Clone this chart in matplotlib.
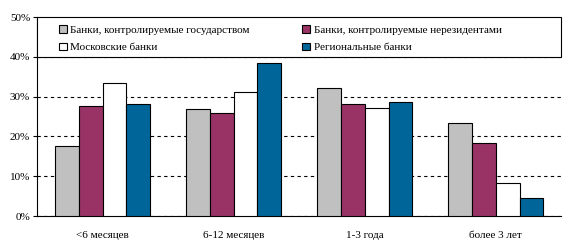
import numpy as np
import matplotlib.pyplot as plt
from matplotlib.patches import Rectangle
from matplotlib.ticker import FuncFormatter

plt.rcParams['font.family'] = ['Liberation Serif', 'DejaVu Serif']

categories = ['<6 месяцев', '6-12 месяцев', '1-3 года', 'более 3 лет']
series_names = ['Банки, контролируемые государством',
                'Банки, контролируемые нерезидентами',
                'Московские банки',
                'Региональные банки']
gos = [17.5, 26.8, 32.1, 23.3]
nerez = [27.6, 25.9, 28.1, 18.3]
moscow = [33.3, 31.2, 27.1, 8.2]
region = [28.1, 38.4, 28.6, 4.5]
colors = ['#c0c0c0', '#993366', '#ffffff', '#006699']

values = [gos, nerez, moscow, region]

fig = plt.figure(figsize=(5.65, 2.43), dpi=100)
ax = fig.add_axes([0.0655, 0.111, 0.9275, 0.819])

x = np.arange(len(categories))
w = 0.183
handles = []
for i, (vals, c) in enumerate(zip(values, colors)):
    b = ax.bar(x + (i - 1.5) * w, vals, w, color=c, edgecolor='black',
               linewidth=0.8, label=series_names[i], zorder=3)
    handles.append(b)

ax.set_xlim(-0.5, len(categories) - 0.5)
ax.set_ylim(0, 50)
ax.set_yticks(range(0, 51, 10))
ax.yaxis.set_major_formatter(FuncFormatter(lambda v, p: f'{int(v)}%'))
ax.set_xticks(x)
ax.set_xticklabels(categories, fontsize=8)
ax.tick_params(axis='x', length=0, pad=11)
ax.tick_params(axis='y', labelsize=8, length=3, width=0.8, pad=2)
ax.yaxis.grid(True, linestyle=(0, (3, 3)), color='black', linewidth=0.8, zorder=0)
ax.spines['top'].set_visible(False)
ax.spines['right'].set_visible(False)
ax.spines['left'].set_linewidth(0.8)
ax.spines['bottom'].set_linewidth(0.8)

# legend box covering the 40-50% band
box = Rectangle((0, 0.8), 1, 0.2, transform=ax.transAxes, facecolor='white',
                edgecolor='black', linewidth=0.8, zorder=4, clip_on=False)
ax.add_patch(box)

order = [0, 2, 1, 3]
leg = ax.legend([handles[k] for k in order], [series_names[k] for k in order],
                ncol=2, loc='upper left', bbox_to_anchor=(0.042, 0.96),
                fontsize=8, frameon=False, handlelength=0.7, handleheight=0.7,
                handletextpad=0.3, borderaxespad=0, labelspacing=0.7,
                borderpad=0, columnspacing=4.75)
leg.set_zorder(5)

fig.savefig('out.png', dpi=100)
